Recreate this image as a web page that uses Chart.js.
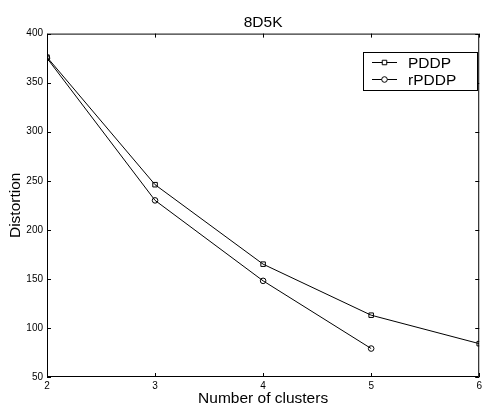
<!DOCTYPE html>
<html lang="en">
<head>
    <meta charset="UTF-8">
    <title>8D5K</title>
    <script src="https://cdn.jsdelivr.net/npm/chart.js"></script>
    <style>
        html, body { margin: 0; padding: 0; background: #fff; }
        #wrap { width: 485px; height: 408px; }
    </style>
</head>
<body>
    <div id="wrap"><canvas id="myChart"></canvas></div>
    <script>
        // values
        const clusters = [2, 3, 4, 5, 6];
        const pddp = [376, 246, 165, 113, 84];
        const rpddp = [375, 230, 148, 79];
        const yTicks = [50, 100, 150, 200, 250, 300, 350, 400];

        const FONT = 'Arial, "Liberation Sans", Helvetica, sans-serif';

        function toPoints(ys) {
            return ys.map((y, i) => ({ x: clusters[i], y: y }));
        }

        // box around plot, inward ticks, legend inside the axes
        const matlabBox = {
            id: 'matlabBox',
            afterDatasetsDraw(chart) {
                const { ctx, chartArea: a, scales } = chart;
                const x = scales.x, y = scales.y;
                ctx.save();
                ctx.strokeStyle = '#000';
                ctx.lineWidth = 1;
                ctx.beginPath();
                ctx.rect(a.left + 0.5, a.top + 0.5, a.right - a.left - 1, a.bottom - a.top - 1);
                ctx.stroke();
                const t = 4;
                ctx.beginPath();
                clusters.forEach(v => {
                    const px = Math.round(x.getPixelForValue(v)) + 0.5;
                    ctx.moveTo(px, a.bottom); ctx.lineTo(px, a.bottom - t);
                    ctx.moveTo(px, a.top); ctx.lineTo(px, a.top + t);
                });
                yTicks.forEach(v => {
                    const py = Math.round(y.getPixelForValue(v)) + 0.5;
                    ctx.moveTo(a.left, py); ctx.lineTo(a.left + t, py);
                    ctx.moveTo(a.right, py); ctx.lineTo(a.right - t, py);
                });
                ctx.stroke();

                // legend
                const lx = 363, ly = 52, lw = 114, lh = 38;
                ctx.fillStyle = '#fff';
                ctx.fillRect(lx, ly, lw, lh);
                ctx.strokeRect(lx + 0.5, ly + 0.5, lw, lh);
                const rows = [
                    { label: 'PDDP', style: 'rect', r: 3.2, cy: 62.5 },
                    { label: 'rPDDP', style: 'circle', r: 2.8, cy: 79.5 }
                ];
                ctx.font = '15.5px ' + FONT;
                ctx.textBaseline = 'middle';
                ctx.textAlign = 'left';
                rows.forEach(r => {
                    ctx.beginPath();
                    ctx.moveTo(372, r.cy); ctx.lineTo(397, r.cy);
                    ctx.stroke();
                    ctx.fillStyle = '#fff';
                    Chart.helpers.drawPoint(ctx, {
                        pointStyle: r.style, radius: r.r, borderWidth: 1
                    }, 384.5, r.cy);
                    ctx.fillStyle = '#000';
                    ctx.fillText(r.label, 408, r.cy + 1);
                });
                ctx.restore();
            }
        };

        const ctx = document.getElementById('myChart');
        new Chart(ctx, {
            type: 'line',
            data: {
                datasets: [{
                    label: 'PDDP',
                    data: toPoints(pddp),
                    borderColor: '#000',
                    borderWidth: 1,
                    pointStyle: 'rect',
                    pointRadius: 3.2,
                    pointBorderColor: '#000',
                    pointBackgroundColor: 'rgba(0,0,0,0)',
                    pointBorderWidth: 1
                }, {
                    label: 'rPDDP',
                    data: toPoints(rpddp),
                    borderColor: '#000',
                    borderWidth: 1,
                    pointStyle: 'circle',
                    pointRadius: 2.8,
                    pointBorderColor: '#000',
                    pointBackgroundColor: 'rgba(0,0,0,0)',
                    pointBorderWidth: 1
                }]
            },
            options: {
                responsive: true,
                maintainAspectRatio: false,
                animation: false,
                layout: { padding: { right: 3, left: 0, top: 0, bottom: 0 } },
                plugins: {
                    legend: { display: false },
                    tooltip: { enabled: false },
                    title: {
                        display: true,
                        text: '8D5K',
                        color: '#000',
                        fullSize: false,
                        font: { family: FONT, size: 15.5, weight: 'normal' },
                        padding: { top: 13, bottom: 2 }
                    }
                },
                scales: {
                    x: {
                        type: 'linear',
                        min: 2,
                        max: 6,
                        afterFit(s) { s.height = 31; },
                        afterBuildTicks(s) { s.ticks = clusters.map(v => ({ value: v })); },
                        grid: { display: false, drawTicks: false, tickLength: 0 },
                        border: { display: false },
                        ticks: {
                            color: '#000',
                            padding: 3,
                            maxRotation: 0,
                            font: { family: FONT, size: 10 }
                        },
                        title: {
                            display: true,
                            text: 'Number of clusters',
                            color: '#000',
                            padding: 0,
                            font: { family: FONT, size: 15.5 }
                        }
                    },
                    y: {
                        min: 50,
                        max: 400,
                        afterFit(s) { s.width = 47; },
                        afterBuildTicks(s) { s.ticks = yTicks.map(v => ({ value: v })); },
                        grid: { display: false, drawTicks: false, tickLength: 0 },
                        border: { display: false },
                        ticks: {
                            color: '#000',
                            padding: 4,
                            font: { family: FONT, size: 10 }
                        },
                        title: {
                            display: true,
                            text: 'Distortion',
                            color: '#000',
                            padding: { top: 6, bottom: 0 },
                            font: { family: FONT, size: 15.5 }
                        }
                    }
                }
            },
            plugins: [matlabBox]
        });
    </script>
</body>
</html>
